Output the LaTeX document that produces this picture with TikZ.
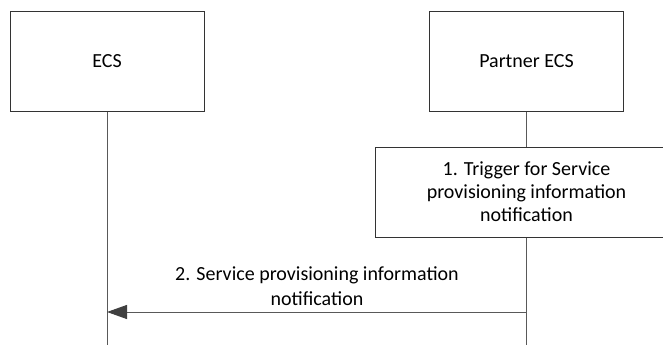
\documentclass[tikz,border=0pt]{standalone}
\usepackage{fontspec}
\setmainfont{Carlito}
\usetikzlibrary{arrows.meta}
\begin{document}
\begin{tikzpicture}[x=1pt,y=-1pt,
  ent/.style={draw=black!80, line width=1pt, minimum width=194pt, minimum height=99pt, inner sep=0pt, font=\fontsize{20}{23}\selectfont},
  act/.style={draw=black!80, fill=white, line width=1pt, minimum width=302pt, minimum height=90pt, inner sep=0pt, align=center, font=\fontsize{20}{23}\selectfont},
  life/.style={draw=black!65, line width=1pt},
  msg/.style={draw=black!65, line width=1pt, -{Triangle[length=20pt,width=14pt,fill=black!75,color=black!75]}},
  lbl/.style={align=center, font=\fontsize{20}{25}\selectfont}]
\useasboundingbox (0,0) rectangle (663,345);
\begin{scope}
\clip (0,0) rectangle (663,345);
\node[ent] (ecs) at (107,61.5) {ECS};
\node[ent] (pecs) at (526.5,61.5) {Partner ECS};
\coordinate (ecsend) at (107,345);
\coordinate (pecsend) at (526.5,345);
\draw[life] (ecs.south) -- (ecsend);
\draw[life] (pecs.south) -- (pecsend);
\node[act] (trig) at (526.5,192) {1. Trigger for Service\\provisioning information\\notification};
\coordinate (a2) at (526.5,312);
\coordinate (b2) at (107,312);
\draw[msg] (a2) -- (b2);
\node[lbl] (m2) at (317,286) {2. Service provisioning information\\notification};
\end{scope}
\end{tikzpicture}
\end{document}
